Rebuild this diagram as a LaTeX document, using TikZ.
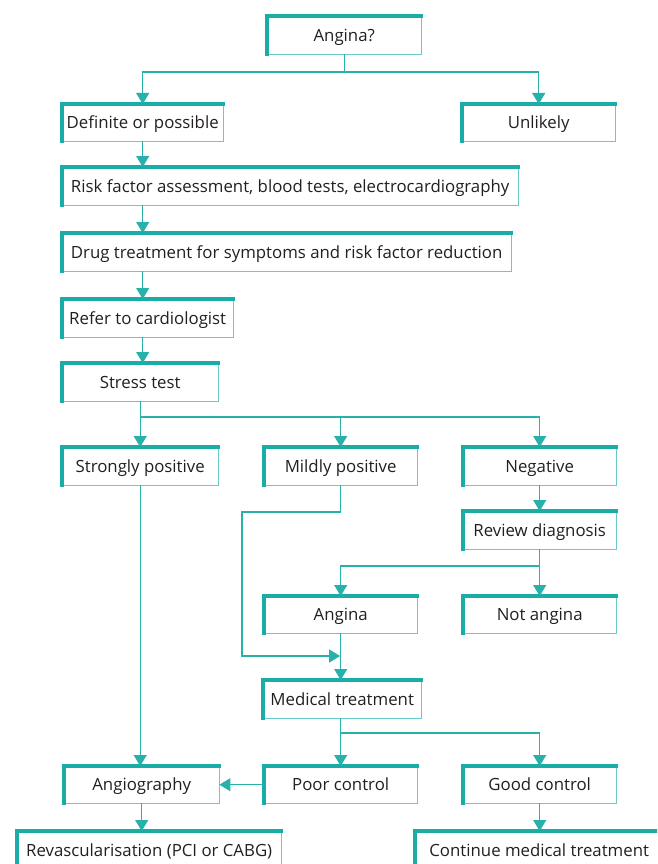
\documentclass[tikz,border=0pt]{standalone}
\usepackage{fontspec}
\setmainfont{Open Sans}
\usetikzlibrary{arrows.meta,calc}
\definecolor{tealA}{RGB}{26,172,167}
\definecolor{tealB}{RGB}{105,203,199}
\definecolor{tealL}{RGB}{40,176,171}
\definecolor{txt}{RGB}{35,31,32}
\tikzset{
  thickb/.style={draw=tealA,line width=3.8pt,line cap=rect},
  thinb/.style={draw=tealB,line width=1.4pt,line cap=rect},
  bx/.style={fill=white,inner sep=0pt,anchor=north west,text=txt,
    font=\fontsize{16.8}{19}\selectfont,text height=17pt,text depth=5pt,
    append after command={
      (\tikzlastnode.north east) edge[thinb] (\tikzlastnode.south east)
      (\tikzlastnode.south east) edge[thinb] (\tikzlastnode.south west)
      (\tikzlastnode.south west) edge[thickb] (\tikzlastnode.north west)
      (\tikzlastnode.north west) edge[thickb] (\tikzlastnode.north east)
    }},
  sz/.style 2 args={minimum width=#1pt,minimum height=#2pt},
  ln/.style={draw=tealL,line width=1.2pt},
  arr/.style={ln,-{Triangle[width=13pt,length=11pt]}}
}
\begin{document}
\begin{tikzpicture}[x=1pt,y=-1pt]
\useasboundingbox (0,0) rectangle (657,864);
\clip (0,0) rectangle (657,864);
\node[bx,sz={154}{38}] (q) at (267,16) {Angina?};
\node[bx,sz={161}{37}] (def) at (62,104) {Definite or possible};
\node[bx,sz={153}{37}] (unl) at (462,104) {Unlikely};
\node[bx,sz={456}{38}] (risk) at (62,167) {Risk factor assessment, blood tests, electrocardiography};
\node[bx,sz={449}{38}] (drug) at (62,233) {Drug treatment for symptoms and risk factor reduction};
\node[bx,sz={171}{38}] (ref) at (62,299) {Refer to cardiologist};
\node[bx,sz={156}{38}] (st) at (62,363) {Stress test};
\node[bx,sz={156}{38}] (sp) at (62,447) {Strongly positive};
\node[bx,sz={153}{38}] (mp) at (264,447) {Mildly positive};
\node[bx,sz={153}{38}] (neg) at (463,447) {Negative};
\node[bx,sz={153}{38}] (rev) at (463,511) {Review diagnosis};
\node[bx,sz={153}{37}] (ang) at (264,596) {Angina};
\node[bx,sz={153}{37}] (nang) at (463,596) {Not angina};
\node[bx,sz={158}{38}] (med) at (263,680) {Medical treatment};
\node[bx,sz={155}{37}] (angio) at (64,766) {Angiography};
\node[bx,sz={153}{37}] (poor) at (264,766) {Poor control};
\node[bx,sz={153}{37}] (good) at (463,766) {Good control};
\node[bx,sz={264}{38}] (revasc) at (17,831) {Revascularisation (PCI or CABG)};
\node[bx,sz={248}{38}] (cont) at (415,831) {Continue medical treatment};
% connectors
\coordinate (j1) at (q.south |- 0,72);
\draw[ln] (q.south) -- (j1);
\draw[arr] (j1) -| (def.north);
\draw[arr] (j1) -| (unl.north);
\draw[arr] (def.south) -- (def.south |- risk.north);
\draw[arr] (def.south |- risk.south) -- (def.south |- drug.north);
\draw[arr] (def.south |- drug.south) -- (def.south |- ref.north);
\draw[arr] (def.south |- ref.south) -- (def.south |- st.north);
\coordinate (j2) at (st.south |- 0,417);
\draw[ln] (st.south) -- (j2);
\draw[arr] (j2) -- (sp.north);
\draw[arr] (j2) -| (mp.north);
\draw[arr] (j2) -| (neg.north);
\draw[arr] (neg.south) -- (rev.north);
\coordinate (j3) at (rev.south |- 0,566);
\draw[ln] (rev.south) -- (j3);
\draw[arr] (j3) -| (ang.north);
\draw[arr] (j3) -- (nang.north);
\coordinate (j4) at (242,512);
\coordinate (j5) at (ang.south |- 0,656);
\draw[arr,shorten >=0.6pt] (mp.south) |- (j4) |- (j5);
\draw[arr] (ang.south) -- (ang.south |- med.north);
\coordinate (j6) at (ang.south |- 0,733);
\draw[ln] (ang.south |- med.south) -- (j6);
\draw[arr] (j6) -- (poor.north);
\draw[arr] (j6) -| (good.north);
\draw[arr] (poor.west) -- (angio.east);
\draw[arr] (sp.south) -- (sp.south |- angio.north);
\draw[arr] (angio.south) -- (angio.south |- revasc.north);
\draw[arr] (good.south) -- (good.south |- cont.north);
\end{tikzpicture}
\end{document}
